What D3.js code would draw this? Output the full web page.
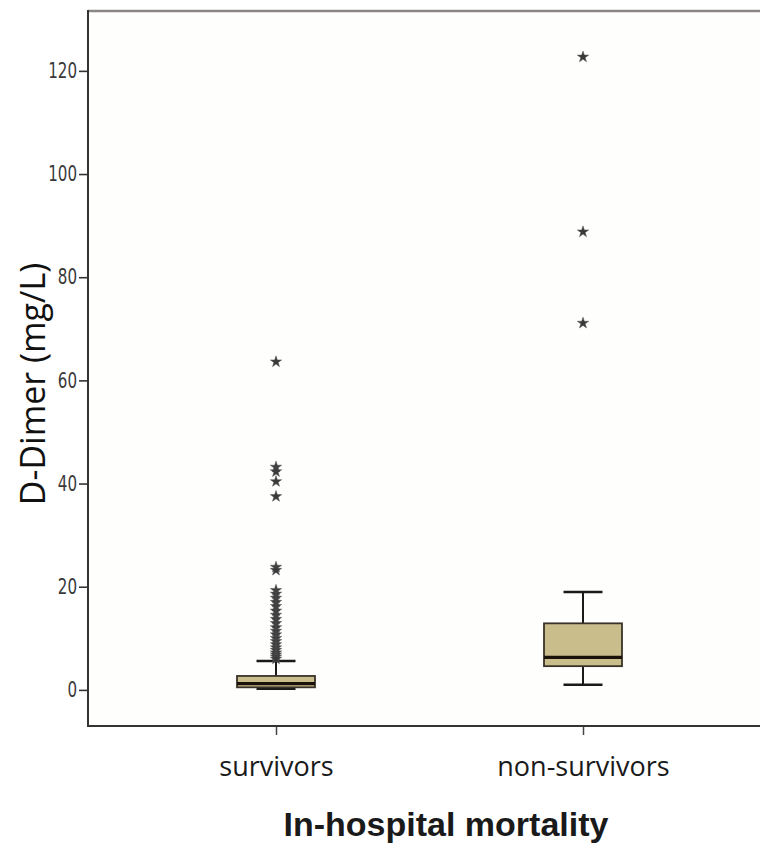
<!DOCTYPE html>
<html>
<head>
<meta charset="utf-8">
<script src="https://cdn.jsdelivr.net/npm/d3@7"></script>
<style>
  html, body { margin: 0; padding: 0; background: #ffffff; }
  svg { display: block; }
</style>
</head>
<body>
<svg id="chart" width="760" height="846"></svg>
<script>
// ---- data ----
const categories = ["survivors", "non-survivors"];
const q1Values = [0.5, 4.6];
const medianValues = [1.2, 6.3];
const q3Values = [2.7, 12.9];
const lowerWhiskers = [0.2, 1.0];
const upperWhiskers = [5.6, 19.0];
const survivorOutliers = [63.6, 43.2, 42.3, 40.4, 37.5, 23.8, 23.2,
  19.3, 18.6, 17.8, 17.0, 16.2, 15.3, 14.5, 13.7, 12.9, 12.1, 11.4, 10.7,
  10.0, 9.4, 8.8, 8.2, 7.7, 7.2, 6.8, 6.4, 6.0];
const nonSurvivorOutliers = [122.7, 88.8, 71.1];
const outlierLists = [survivorOutliers, nonSurvivorOutliers];
const yTicks = [0, 20, 40, 60, 80, 100, 120];
const yTitle = "D-Dimer (mg/L)";
const xTitle = "In-hospital mortality";

(function () {
// ---- layout ----
const svg = d3.select("#chart");
const pLeft = 88, pRight = 760, pTop = 10, pBottom = 726;
const boxW = 78;

const y = d3.scaleLinear().domain([-7, 131.8]).range([pBottom, pTop]);
const x = d3.scalePoint().domain(categories).range([276, 583]);

// plot background
svg.append("rect").attr("x", pLeft).attr("y", pTop)
  .attr("width", pRight - pLeft).attr("height", pBottom - pTop)
  .attr("fill", "#fefefc");

// top border
svg.append("line").attr("x1", pLeft).attr("x2", pRight).attr("y1", pTop + 1).attr("y2", pTop + 1)
  .attr("stroke", "#8a8686").attr("stroke-width", 2.5);

// y axis
const yAxis = d3.axisLeft(y).tickValues(yTicks).tickSize(9).tickPadding(2).tickFormat(d3.format("d"));
const gy = svg.append("g").attr("transform", `translate(${pLeft},0)`).call(yAxis);
gy.select(".domain").remove();
gy.selectAll(".tick line").attr("stroke", "#333").attr("stroke-width", 1.6);
gy.selectAll(".tick text")
  .attr("font-family", "'Liberation Sans Narrow', 'DejaVu Sans Condensed', sans-serif")
  .attr("font-size", 21).attr("fill", "#3a3a3a")
  .attr("x", -11 / 0.8)
  .attr("transform", "scale(0.8,1)");
svg.append("line").attr("x1", pLeft).attr("x2", pLeft).attr("y1", pTop).attr("y2", pBottom + 1)
  .attr("stroke", "#333").attr("stroke-width", 2);

// x axis
const xAxis = d3.axisBottom(x).tickSize(9).tickPadding(22);
const gx = svg.append("g").attr("transform", `translate(0,${pBottom})`).call(xAxis);
gx.select(".domain").remove();
gx.selectAll(".tick line").attr("stroke", "#444").attr("stroke-width", 1.5);
gx.selectAll(".tick text")
  .attr("font-family", "'Open Sans', 'Noto Sans', sans-serif")
  .attr("font-size", 27).attr("fill", "#1a1a1a")
  .attr("dy", "0.71em");
svg.append("line").attr("x1", pLeft).attr("x2", pRight).attr("y1", pBottom).attr("y2", pBottom)
  .attr("stroke", "#333").attr("stroke-width", 2);

// boxes
const idx = d3.range(categories.length);
const g = svg.append("g");
idx.forEach(i => {
  const cx = x(categories[i]);
  g.append("line").attr("x1", cx).attr("x2", cx)
    .attr("y1", y(q3Values[i])).attr("y2", y(upperWhiskers[i]))
    .attr("stroke", "#1a1a1a").attr("stroke-width", 2);
  g.append("line").attr("x1", cx).attr("x2", cx)
    .attr("y1", y(q1Values[i])).attr("y2", y(lowerWhiskers[i]))
    .attr("stroke", "#1a1a1a").attr("stroke-width", 2);
  g.append("line").attr("x1", cx - boxW / 4).attr("x2", cx + boxW / 4)
    .attr("y1", y(upperWhiskers[i])).attr("y2", y(upperWhiskers[i]))
    .attr("stroke", "#1a1a1a").attr("stroke-width", 2.5);
  g.append("line").attr("x1", cx - boxW / 4).attr("x2", cx + boxW / 4)
    .attr("y1", y(lowerWhiskers[i])).attr("y2", y(lowerWhiskers[i]))
    .attr("stroke", "#1a1a1a").attr("stroke-width", 2.5);
  g.append("rect").attr("x", cx - boxW / 2).attr("width", boxW)
    .attr("y", y(q3Values[i])).attr("height", y(q1Values[i]) - y(q3Values[i]))
    .attr("fill", "#c9bd8c").attr("stroke", "#3a3228").attr("stroke-width", 1.8);
  g.append("line").attr("x1", cx - boxW / 2).attr("x2", cx + boxW / 2)
    .attr("y1", y(medianValues[i])).attr("y2", y(medianValues[i]))
    .attr("stroke", "#1a1208").attr("stroke-width", 3.2);
  g.selectAll(null).data(outlierLists[i]).enter().append("path")
    .attr("d", d3.symbol(d3.symbolStar).size(40))
    .attr("transform", d => `translate(${cx},${y(d)})`)
    .attr("fill", "#3a3a3a").attr("stroke", "#555").attr("stroke-width", 0.5);
});

// y title
svg.append("text")
  .attr("transform", `translate(45,384) rotate(-90)`)
  .attr("text-anchor", "middle")
  .attr("font-family", "'Open Sans', 'Noto Sans', sans-serif")
  .attr("font-size", 34).attr("fill", "#111")
  .text(yTitle);

// x title
svg.append("text")
  .attr("x", 446).attr("y", 836)
  .attr("text-anchor", "middle")
  .attr("font-family", "'Liberation Sans', Arial, sans-serif")
  .attr("font-weight", "bold")
  .attr("font-size", 34).attr("fill", "#1a1a1a")
  .text(xTitle);
})();
</script>
</body>
</html>
